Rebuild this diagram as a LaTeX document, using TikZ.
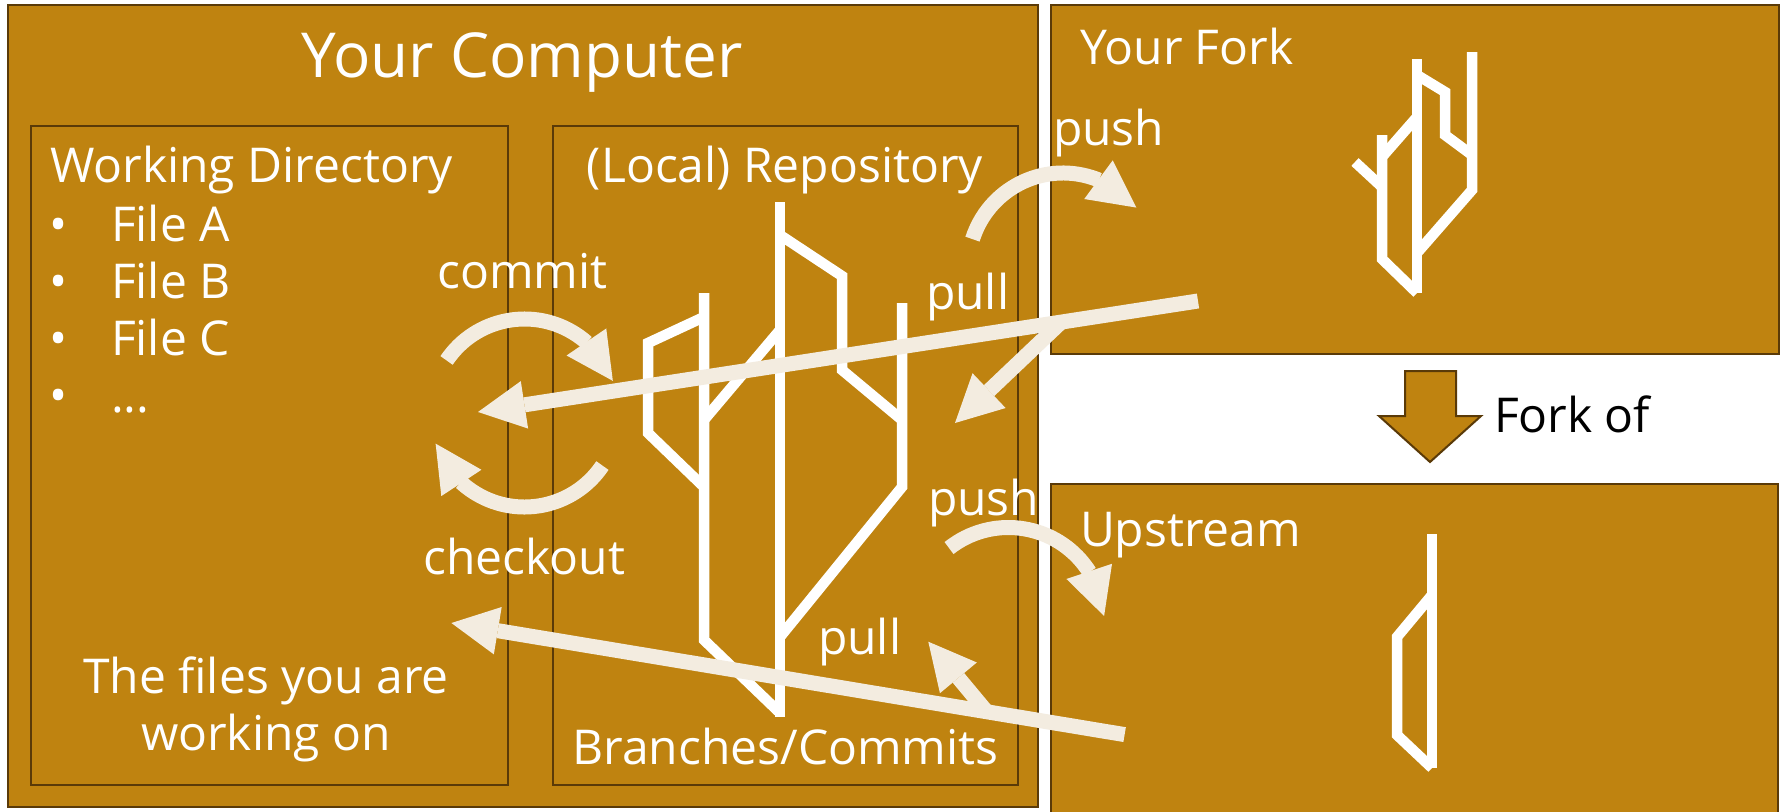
\documentclass[tikz,border=0pt]{standalone}
\usepackage{fontspec}
\setmainfont{Open Sans}
\usetikzlibrary{arrows.meta,bending,calc}
\definecolor{gold}{RGB}{191,131,16}
\definecolor{edge}{RGB}{90,58,8}
\definecolor{cream}{RGB}{243,236,224}
\begin{document}
\begin{tikzpicture}[x=1pt,y=-1pt,
  box/.style={draw=edge, line width=2.5pt, fill=gold, outer sep=0pt, inner sep=0pt, anchor=north west},
  lbl/.style={text=white, font=\fontsize{48}{57}\selectfont, inner sep=0pt, outer sep=0pt},
  branch/.style={draw=white, line width=10.5pt, line join=miter, line cap=butt},
  flow/.style={draw=cream, line width=15pt, -{Triangle[width=48pt,length=47pt,line width=0pt,flex=1]}},
]
\path[use as bounding box, fill=white] (0,0) rectangle (1785,811);
\clip (0,0) rectangle (1785,811);

% boxes
\node[box, minimum width=1030pt, minimum height=802pt] (computer) at (8,5) {};
\node[box, minimum width=477pt, minimum height=659pt] (workdir) at (31,126) {};
\node[box, minimum width=465pt, minimum height=659pt] (repo) at (553,126) {};
\node[box, minimum width=728pt, minimum height=349pt] (fork) at (1051,5) {};
\node[box, minimum width=727pt, minimum height=345pt] (upstream) at (1051,484) {};

% fork-of block arrow
\draw[draw=edge, line width=2pt, fill=gold] (1405,371) -- (1456,371) -- (1456,416) -- (1481,416)
  -- (1430,462) -- (1379,416) -- (1405,416) -- cycle;

% texts
\node[lbl, font=\fontsize{62}{70}\selectfont, anchor=base] (tcomp) at (522,77.5) {Your Computer};
\node[lbl, anchor=base west] (twd) at (50,182.5) {Working Directory};
\node[lbl, anchor=base] (b1) at (59,241.5) {•};
\node[lbl, anchor=base] (b2) at (59,298.5) {•};
\node[lbl, anchor=base] (b3) at (59,355) {•};
\node[lbl, anchor=base] (b4) at (59,412.5) {•};
\node[lbl, anchor=base west] (fa) at (111,241.5) {File A};
\node[lbl, anchor=base west] (fb) at (111,298.5) {File B};
\node[lbl, anchor=base west] (fc) at (111,355) {File C};
\node[lbl, anchor=base west] (fd) at (111,412.5) {...};
\node[lbl, anchor=base] (tcommit) at (522.5,288) {commit};
\node[lbl, anchor=base] (tcheckout) at (524.5,574) {checkout};
\node[lbl, anchor=base] (tfiles1) at (266,693) {The files you are};
\node[lbl, anchor=base] (tfiles2) at (266,750) {working on};
\node[lbl, anchor=base] (trepo) at (785,182) {(Local) Repository};
\node[lbl, anchor=base] (tbranches) at (785.5,764) {Branches/Commits};
\node[lbl, anchor=base west] (tpull1) at (926,309.5) {pull};
\node[lbl, anchor=base west] (tpush2) at (928,515) {push};
\node[lbl, anchor=base west] (tpull2) at (818,654.5) {pull};
\node[lbl, anchor=base west] (tpush1) at (1053,145) {push};
\node[lbl, anchor=base west] (tfork) at (1080,64.7) {Your Fork};
\node[lbl, anchor=base west] (tup) at (1080,546) {Upstream};
\node[lbl, text=black, anchor=base west] (tforkof) at (1494,432) {Fork of};

% local repository branches
\draw[branch] (780,202) -- (780,717);
\draw[branch] (780,235) -- (842,276) -- (842,370) -- (902,420);
\draw[branch] (902,303) -- (902,487) -- (780,637);
\draw[branch] (704,293) -- (704,640) -- (780,713);
\draw[branch] (704,317) -- (648,343) -- (648,433) -- (704,487);
\draw[branch] (704,420) -- (780,330);

% fork branches
\draw[branch] (1417,59) -- (1417,293);
\draw[branch] (1417,75) -- (1445,92) -- (1445,135) -- (1472,155);
\draw[branch] (1472,52) -- (1472,190) -- (1417,253);
\draw[branch] (1382,135) -- (1382,259) -- (1417,293);
\draw[branch] (1382,157) -- (1417,117);
\draw[branch] (1382,187) -- (1355,162);

% upstream branches
\draw[branch] (1432,534) -- (1432,768);
\draw[branch] (1432,595) -- (1397,637) -- (1397,735) -- (1432,768);

% commit / checkout
\coordinate (ccom) at (524.5,413);
\draw[flow] ($(ccom)+(-146:94)$) arc[start angle=-146, end angle=-20, radius=94];
\draw[flow] ($(ccom)+(34:94)$) arc[start angle=34, end angle=161, radius=94];

% push arcs
\coordinate (cpush1) at (1063,268);
\draw[flow] ($(cpush1)+(-162.3:95)$) arc[start angle=-162.3, end angle=-39.5, radius=95];
\coordinate (cpush2) at (1008.4,623.5);
\draw[flow] ($(cpush2)+(-128.2:96)$) arc[start angle=-128.2, end angle=-4.5, radius=96];

% pull arrows
\coordinate (pt1) at (1198,301);
\coordinate (ph1) at (478,412);
\draw[flow] (pt1) -- (ph1);
\coordinate (j1) at ($(pt1)!0.19!(ph1)$);
\coordinate (ph1b) at (955,423);
\draw[flow] (j1) -- (ph1b);

\coordinate (pt2) at (1124.6,734.6);
\coordinate (ph2) at (451.4,623);
\draw[flow] (pt2) -- (ph2);
\coordinate (j2) at ($(pt2)!0.205!(ph2)$);
\coordinate (ph2b) at (928.3,641.7);
\draw[flow] (j2) -- (ph2b);
\end{tikzpicture}
\end{document}
